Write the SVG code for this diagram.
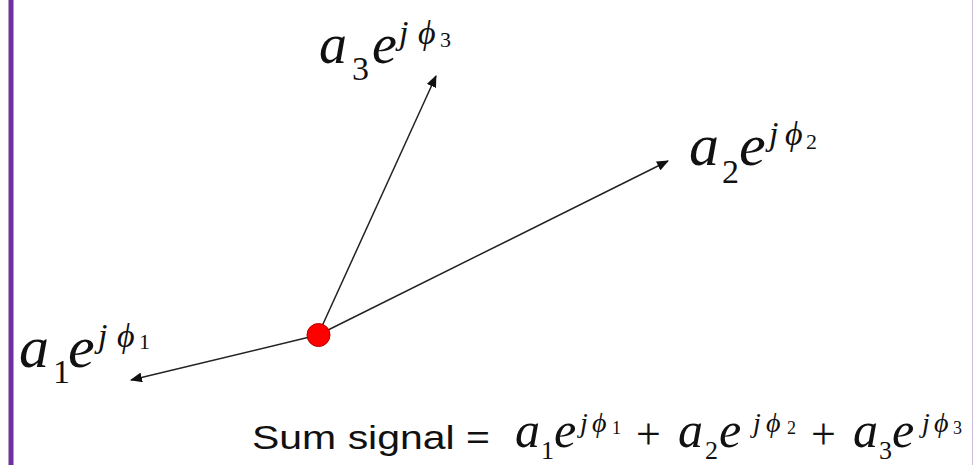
<svg xmlns="http://www.w3.org/2000/svg" width="974" height="465" viewBox="0 0 974 465">
<style>
.m{font-family:"Liberation Serif","DejaVu Serif",serif;font-style:italic;fill:#111}
.n{font-family:"Liberation Serif","DejaVu Serif",serif;fill:#111}
.s{font-family:"Liberation Sans",Arial,sans-serif;fill:#111}
.c{stroke:#222;stroke-width:1.5;fill:none}
</style>
<defs>
<marker id="ah" viewBox="0 0 12 10" refX="11" refY="5" markerWidth="12" markerHeight="10" markerUnits="userSpaceOnUse" orient="auto">
<path d="M0,0 L12,5 L0,10 Z" fill="#111"/>
</marker>
</defs>
<rect width="974" height="465" fill="#fff"/>
<rect x="8.5" y="0" width="5" height="465" fill="#7030A0"/>
<line x1="972.5" y1="0" x2="972.5" y2="465" stroke="#cbbcdc" stroke-width="1"/>
<g id="connectors">
<line class="c" x1="318" y1="335" x2="436" y2="76" marker-end="url(#ah)"/>
<line class="c" x1="318" y1="335" x2="668" y2="161" marker-end="url(#ah)"/>
<line class="c" x1="318" y1="335" x2="131" y2="380" marker-end="url(#ah)"/>
</g>
<g id="origin">
<circle cx="318.5" cy="335" r="11.5" fill="#ff0000" stroke="#b00000" stroke-width="1"/>
</g>
<g id="label-a3">
<text class="m" x="319" y="63" font-size="56">a</text>
<text class="n" x="352" y="80" font-size="34">3</text>
<text class="m" x="372" y="63" font-size="56">e</text>
<text class="m" x="399" y="44" font-size="34">j</text>
<text class="m" x="418" y="44" font-size="34">ϕ</text>
<text class="n" x="440" y="47" font-size="22">3</text>
</g>
<g id="label-a2">
<text class="m" x="689" y="165" font-size="60">a</text>
<text class="n" x="722" y="183" font-size="34">2</text>
<text class="m" x="739" y="165" font-size="60">e</text>
<text class="m" x="769" y="145" font-size="34">j</text>
<text class="m" x="785" y="145" font-size="34">ϕ</text>
<text class="n" x="806" y="149" font-size="22">2</text>
</g>
<g id="label-a1">
<text class="m" x="19" y="367" font-size="60">a</text>
<text class="n" x="53" y="383" font-size="34">1</text>
<text class="m" x="68" y="367" font-size="60">e</text>
<text class="m" x="98" y="347" font-size="34">j</text>
<text class="m" x="117" y="347" font-size="34">ϕ</text>
<text class="n" x="139" y="349" font-size="22">1</text>
</g>
<g id="sum">
<text class="s" x="252" y="449" font-size="33" textLength="238" lengthAdjust="spacingAndGlyphs">Sum signal =</text>
<text class="m" x="515" y="447" font-size="50">a</text>
<text class="n" x="541" y="459" font-size="26">1</text>
<text class="m" x="554" y="447" font-size="50">e</text>
<text class="m" x="580" y="432" font-size="28">j</text>
<text class="m" x="592" y="432" font-size="28">ϕ</text>
<text class="n" x="612" y="434" font-size="18">1</text>
<text class="n" x="636" y="449" font-size="44">+</text>
<text class="m" x="678" y="447" font-size="50">a</text>
<text class="n" x="705" y="459" font-size="26">2</text>
<text class="m" x="719" y="447" font-size="50">e</text>
<text class="m" x="753" y="432" font-size="28">j</text>
<text class="m" x="766" y="432" font-size="28">ϕ</text>
<text class="n" x="787" y="434" font-size="18">2</text>
<text class="n" x="811" y="449" font-size="44">+</text>
<text class="m" x="853" y="447" font-size="50">a</text>
<text class="n" x="879" y="459" font-size="26">3</text>
<text class="m" x="892" y="447" font-size="50">e</text>
<text class="m" x="922" y="432" font-size="28">j</text>
<text class="m" x="934" y="432" font-size="28">ϕ</text>
<text class="n" x="953" y="434" font-size="18">3</text>
</g>
</svg>
